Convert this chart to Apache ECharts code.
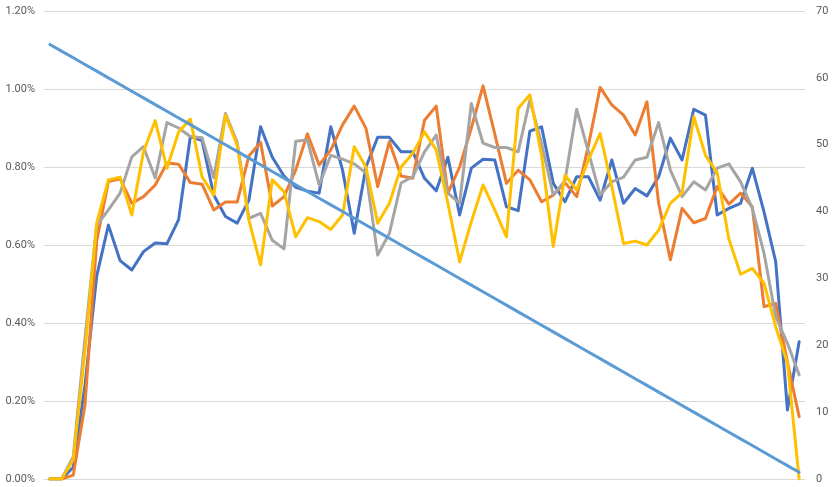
<!DOCTYPE html>
<html>
<head>
<meta charset="utf-8">
<script src="https://cdn.jsdelivr.net/npm/echarts@6/dist/echarts.min.js"></script>
<style>
html,body{margin:0;padding:0;background:#fff;}
#chart{width:834px;height:487px;}
</style>
</head>
<body>
<div id="chart"></div>
<script>
// 65 categories (no x labels shown)
var categories = [];
for (var k = 1; k <= 65; k++) categories.push(String(k));

var leftTicks = ['0.00%','0.20%','0.40%','0.60%','0.80%','1.00%','1.20%'];
var rightTicks = ['0','10','20','30','40','50','60','70'];

// values in percent (left axis)
var seriesBlue = [0,0,0.03,0.24,0.52,0.651,0.56,0.536,0.583,0.605,0.603,0.665,0.878,0.868,0.728,0.673,0.656,0.715,0.903,0.825,0.777,0.748,0.738,0.733,0.903,0.792,0.63,0.80,0.876,0.876,0.839,0.839,0.771,0.739,0.825,0.677,0.797,0.82,0.818,0.698,0.688,0.892,0.903,0.758,0.711,0.775,0.775,0.715,0.818,0.707,0.745,0.726,0.775,0.874,0.818,0.948,0.933,0.677,0.694,0.707,0.797,0.685,0.557,0.177,0.352];
var seriesOrange = [0,0,0.01,0.19,0.61,0.763,0.77,0.707,0.724,0.754,0.81,0.807,0.76,0.756,0.69,0.71,0.71,0.828,0.863,0.70,0.724,0.792,0.885,0.805,0.844,0.908,0.956,0.899,0.75,0.865,0.777,0.771,0.92,0.956,0.733,0.80,0.90,1.008,0.885,0.758,0.792,0.767,0.711,0.728,0.76,0.724,0.855,1.004,0.959,0.933,0.882,0.967,0.707,0.562,0.694,0.657,0.668,0.75,0.705,0.733,0.698,0.442,0.45,0.30,0.16];
var seriesGray = [0,0,0.057,0.36,0.65,0.69,0.733,0.826,0.852,0.772,0.914,0.90,0.878,0.875,0.773,0.937,0.863,0.668,0.681,0.612,0.59,0.866,0.869,0.754,0.83,0.82,0.808,0.785,0.574,0.63,0.759,0.775,0.839,0.882,0.733,0.707,0.963,0.861,0.85,0.85,0.839,0.972,0.86,0.728,0.765,0.948,0.839,0.728,0.762,0.774,0.818,0.825,0.914,0.792,0.724,0.762,0.741,0.797,0.808,0.762,0.694,0.579,0.416,0.348,0.267];
var seriesYellow = [0,0,0.05,0.33,0.656,0.767,0.774,0.677,0.839,0.919,0.797,0.89,0.923,0.775,0.728,0.933,0.856,0.664,0.549,0.767,0.737,0.621,0.67,0.66,0.64,0.677,0.852,0.80,0.656,0.707,0.80,0.835,0.89,0.844,0.707,0.557,0.66,0.754,0.69,0.621,0.95,0.985,0.83,0.596,0.779,0.741,0.818,0.886,0.75,0.604,0.61,0.60,0.638,0.707,0.734,0.929,0.83,0.785,0.615,0.525,0.54,0.502,0.39,0.297,0];
// right axis
var seriesCount = [65,64,63,62,61,60,59,58,57,56,55,54,53,52,51,50,49,48,47,46,45,44,43,42,41,40,39,38,37,36,35,34,33,32,31,30,29,28,27,26,25,24,23,22,21,20,19,18,17,16,15,14,13,12,11,10,9,8,7,6,5,4,3,2,1];

var chart = echarts.init(document.getElementById('chart'), null, {renderer:'canvas'});
function lineSeries(name, data, color, yIdx) {
  return {
    name: name, type: 'line', data: data, yAxisIndex: yIdx,
    symbol: 'none', smooth: false,
    lineStyle: {color: color, width: 3, cap: 'round', join: 'round'},
    itemStyle: {color: color},
    emphasis: {disabled: true}
  };
}
var labelStyle = {color:'#595959', fontSize:11, fontFamily:'Roboto, "Liberation Sans", sans-serif'};
chart.setOption({
  animation: false,
  backgroundColor: '#ffffff',
  grid: {left: 44, right: 29, top: 11, bottom: 8, containLabel: false},
  xAxis: {
    type: 'category', data: categories, boundaryGap: true,
    axisLine: {show: true, lineStyle: {color: '#d9d9d9', width: 1}},
    axisTick: {show: false}, axisLabel: {show: false}, splitLine: {show: false}
  },
  yAxis: [{
    type: 'value', min: 0, max: 1.2, interval: 0.2, position: 'left',
    axisLine: {show: false}, axisTick: {show: false},
    axisLabel: Object.assign({margin: 9, formatter: function(v){ return leftTicks[Math.round(v/0.2)]; }}, labelStyle),
    splitLine: {show: true, lineStyle: {color: '#d9d9d9', width: 1}}
  }, {
    type: 'value', min: 0, max: 70, interval: 10, position: 'right',
    axisLine: {show: false}, axisTick: {show: false},
    axisLabel: Object.assign({margin: 11, formatter: function(v){ return rightTicks[Math.round(v/10)]; }}, labelStyle),
    splitLine: {show: false}
  }],
  series: [
    lineSeries('S1', seriesBlue, '#4472C4', 0),
    lineSeries('S2', seriesOrange, '#ED7D31', 0),
    lineSeries('S3', seriesGray, '#A5A5A5', 0),
    lineSeries('S4', seriesYellow, '#FFC000', 0),
    lineSeries('S5', seriesCount, '#5B9BD5', 1)
  ]
});
</script>
</body>
</html>
